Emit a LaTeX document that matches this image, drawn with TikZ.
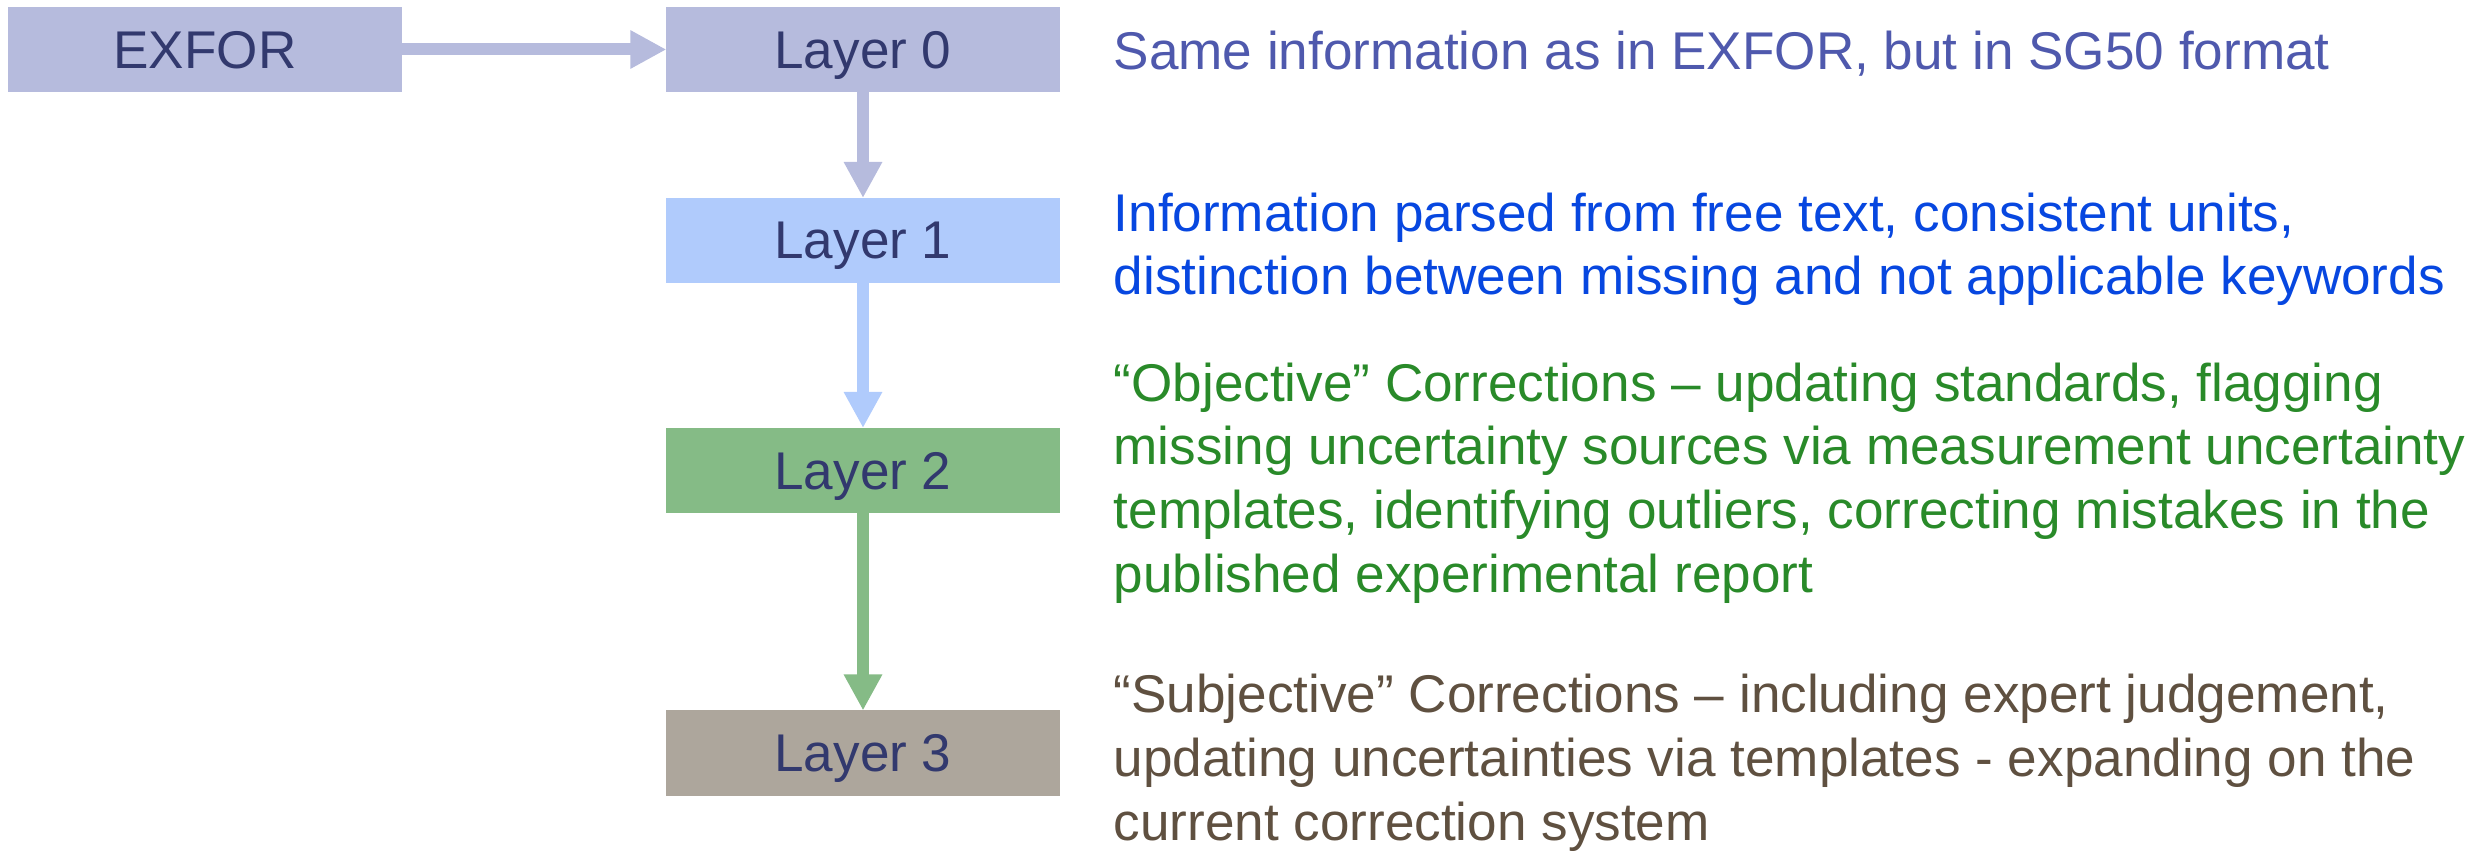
\documentclass[tikz,border=0pt]{standalone}
\usepackage{fontspec}
\setmainfont{Liberation Sans}
\usetikzlibrary{arrows.meta}

\definecolor{boxlav}{HTML}{B6BBDD}
\definecolor{boxblue}{HTML}{B0CBFC}
\definecolor{boxgreen}{HTML}{85BB86}
\definecolor{boxgrey}{HTML}{ADA69C}
\definecolor{navytext}{HTML}{32396E}
\definecolor{textslate}{HTML}{4F59AD}
\definecolor{textblue}{HTML}{0747E0}
\definecolor{textgreen}{HTML}{298A29}
\definecolor{textbrown}{HTML}{5F5040}

\newcommand{\notefont}{\fontsize{15.1pt}{18.1pt}\selectfont}

\tikzset{
  layerbox/.style={fill=#1, minimum width=3.93cm, minimum height=0.85cm,
    inner sep=0pt, outer sep=0pt, text depth=0pt, text=navytext, font=\notefont},
  flow/.style={draw=#1, line width=0.12cm,
    -{Triangle[length=0.36cm,width=0.36cm]}},
  note/.style={anchor=base west, align=left, inner sep=0pt, text=#1, font=\notefont}
}

\begin{document}
\begin{tikzpicture}[x=0.01cm, y=-0.01cm]
  \useasboundingbox (0,0) rectangle (2489,852);
  % boxes
  \node[layerbox=boxlav] (exfor) at (205,49.5) {EXFOR};
  \node[layerbox=boxlav] (layer0) at (863,49.5) {Layer 0};
  \node[layerbox=boxblue] (layer1) at (863,240.5) {Layer 1};
  \node[layerbox=boxgreen] (layer2) at (863,470.5) {Layer 2};
  \node[layerbox=boxgrey] (layer3) at (863,753) {Layer 3};
  % arrows
  \draw[flow=boxlav] (exfor) -- (layer0);
  \draw[flow=boxlav] (layer0) -- (layer1);
  \draw[flow=boxblue] (layer1) -- (layer2);
  \draw[flow=boxgreen] (layer2) -- (layer3);
  % descriptions (placed at the baseline of their last line)
  \node[note=textslate] (note0) at (1113,70) {Same information as in EXFOR, but in SG50 format};
  \node[note=textblue] (note1) at (1113,295) {Information parsed from free text, consistent units,\\distinction between missing and not applicable keywords};
  \node[note=textgreen] (note2) at (1113,592) {“Objective” Corrections – updating standards, flagging\\missing uncertainty sources via measurement uncertainty\\templates, identifying outliers, correcting mistakes in the\\published experimental report};
  \node[note=textbrown] (note3) at (1113,840) {“Subjective” Corrections – including expert judgement,\\updating uncertainties via templates - expanding on the\\current correction system};
\end{tikzpicture}
\end{document}
